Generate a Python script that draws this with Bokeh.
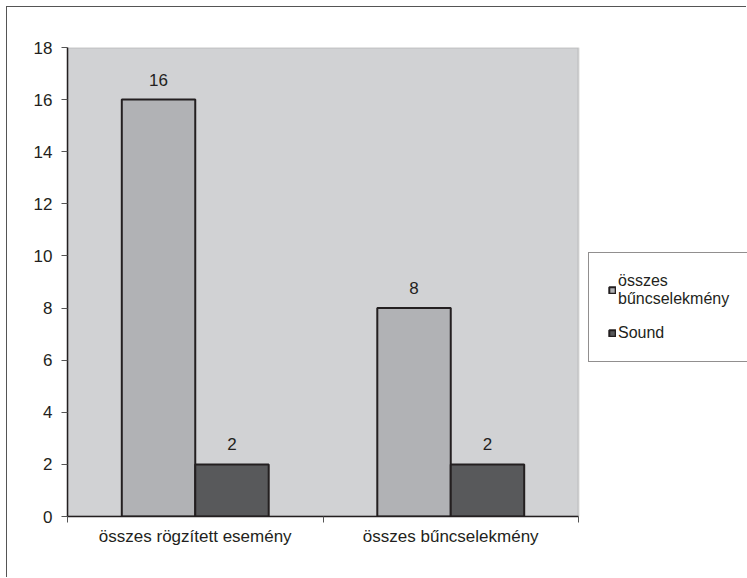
from bokeh.plotting import figure
from bokeh.models import (ColumnDataSource, Range1d, FixedTicker, SingleIntervalTicker,
                          Legend, LegendItem, BoxAnnotation)
from bokeh.transform import dodge
from bokeh.core.properties import value
from bokeh.embed import file_html
from bokeh.resources import INLINE

categories = ["összes rögzített esemény", "összes bűncselekmény"]
series_names = ["összes\nbűncselekmény", "Sound"]
crimes = [16, 8]
sound = [2, 2]
y_ticks_interval = 2
y_max = 18

xpos = [i + 0.5 for i in range(len(categories))]
src = ColumnDataSource(dict(x=xpos, crimes=crimes, sound=sound,
                            crimes_lbl=[str(v) for v in crimes],
                            sound_lbl=[str(v) for v in sound]))

FONT = "Liberation Sans"
TXT = "#231F20"

# plot area spans 67..578 px; frame extended to 747 to host the legend
ncat = len(categories)
x_end = ncat * (747 - 67) / (578 - 67)

p = figure(width=740, height=571, output_backend="svg", toolbar_location=None,
           x_range=Range1d(0, x_end), y_range=Range1d(0, y_max),
           min_border_left=60, min_border_right=0, min_border_top=40, min_border_bottom=62,
           background_fill_color="white", border_fill_color="white",
           styles={"border-left": "1px solid #555555", "border-top": "1px solid #555555",
                   "margin-left": "6px", "margin-top": "6px"})

p.outline_line_color = None
p.xgrid.visible = False
p.ygrid.visible = False

p.add_layout(BoxAnnotation(left=0, right=ncat, bottom=0, top=y_max,
                           fill_color="#D1D2D4", fill_alpha=1,
                           line_color="#909090", line_width=2, level="underlay"))

bw = 0.2875
r1 = p.vbar(x=dodge("x", -bw / 2, range=p.x_range), top="crimes", width=bw, source=src,
            fill_color="#B1B2B5", line_color=TXT, line_width=2)
r2 = p.vbar(x=dodge("x", bw / 2, range=p.x_range), top="sound", width=bw, source=src,
            fill_color="#58595B", line_color=TXT, line_width=2)

p.text(x=dodge("x", -bw / 2, range=p.x_range), y="crimes", text="crimes_lbl", source=src,
       text_align="center", text_baseline="alphabetic", y_offset=-20,
       text_font=value(FONT), text_font_size="17px", text_color=TXT)
p.text(x=dodge("x", bw / 2, range=p.x_range), y="sound", text="sound_lbl", source=src,
       text_align="center", text_baseline="alphabetic", y_offset=-20,
       text_font=value(FONT), text_font_size="17px", text_color=TXT)

# x axis
xa = p.xaxis[0]
xa.bounds = (0, ncat)
xa.ticker = FixedTicker(ticks=xpos, minor_ticks=list(range(ncat + 1)))
xa.major_label_overrides = {xpos[i]: categories[i] for i in range(ncat)}
xa.major_tick_out = 0
xa.major_tick_in = 0
xa.minor_tick_out = 6
xa.minor_tick_in = 0
xa.minor_tick_line_color = "#555555"
xa.axis_line_color = TXT
xa.axis_line_width = 1.5
xa.major_label_standoff = 4
xa.major_label_text_font = FONT
xa.major_label_text_font_size = "17px"
xa.major_label_text_color = TXT

# y axis
ya = p.yaxis[0]
ya.ticker = SingleIntervalTicker(interval=y_ticks_interval, num_minor_ticks=0)
ya.major_tick_out = 6
ya.major_tick_in = 0
ya.minor_tick_out = 0
ya.minor_tick_in = 0
ya.major_tick_line_color = "#555555"
ya.axis_line_color = TXT
ya.axis_line_width = 1.5
ya.major_label_standoff = 9
ya.major_label_text_font = FONT
ya.major_label_text_font_size = "17px"
ya.major_label_text_color = TXT

legend = Legend(items=[LegendItem(label=series_names[0], renderers=[r1]),
                       LegendItem(label=series_names[1], renderers=[r2])],
                location=(521, 154))
legend.border_line_color = TXT
legend.border_line_width = 1
legend.background_fill_color = "white"
legend.background_fill_alpha = 1
legend.label_text_font = FONT
legend.label_text_font_size = "16px"
legend.label_text_color = TXT
legend.glyph_width = 8
legend.glyph_height = 8
legend.label_standoff = 2
legend.padding = 19
legend.spacing = 16
legend.label_width = 109
legend.margin = 0
p.add_layout(legend, "center")

open("out.html", "w").write(file_html(p, INLINE))
